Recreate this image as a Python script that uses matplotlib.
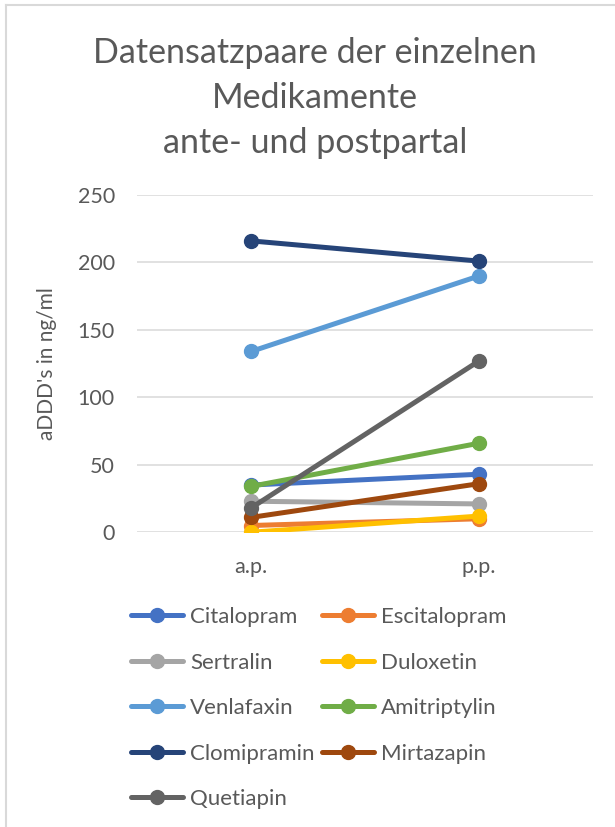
import matplotlib
matplotlib.use('Agg')
import matplotlib.pyplot as plt
from matplotlib.lines import Line2D

plt.rcParams['font.family'] = ['Lato', 'DejaVu Sans']

# Data (aDDD's in ng/ml)
categories = ['a.p.', 'p.p.']
drugs = ['Citalopram', 'Escitalopram', 'Sertralin', 'Duloxetin', 'Venlafaxin',
         'Amitriptylin', 'Clomipramin', 'Mirtazapin', 'Quetiapin']
citalopram = [35, 43]
escitalopram = [5, 10]
sertralin = [23, 21]
duloxetin = [0, 12]
venlafaxin = [134, 190]
amitriptylin = [34, 66]
clomipramin = [216, 201]
mirtazapin = [11, 36]
quetiapin = [18, 127]
values = [citalopram, escitalopram, sertralin, duloxetin, venlafaxin,
          amitriptylin, clomipramin, mirtazapin, quetiapin]
colors = ['#4472C4', '#ED7D31', '#A5A5A5', '#FFC000', '#5B9BD5',
          '#70AD47', '#264478', '#9E480E', '#636363']

text_col = '#595959'
grid_col = '#D9D9D9'

fig = plt.figure(figsize=(6.15, 8.27), dpi=100)
ax = fig.add_axes([0.2228, 0.3564, 0.7415, 0.4078])

x = list(range(len(categories)))
handles = []
for name, vals, c in zip(drugs, values, colors):
    h, = ax.plot(x, vals, color=c, lw=3.6, marker='o', markersize=10,
                 solid_capstyle='round', label=name)
    handles.append(h)

ax.set_xlim(-0.5, 1.5)
ax.set_ylim(0, 250)
ax.set_yticks([0, 50, 100, 150, 200, 250])
ax.set_xticks(x)
ax.set_xticklabels(categories)
ax.grid(axis='y', color=grid_col, lw=1.1)
ax.set_axisbelow(True)
for s in ax.spines.values():
    s.set_visible(False)
ax.tick_params(length=0, labelsize=15.5, labelcolor=text_col)
ax.tick_params(axis='y', pad=16)
ax.tick_params(axis='x', pad=18)
ax.set_ylabel("aDDD's in ng/ml", fontsize=15, color=text_col)
ax.yaxis.set_label_coords(-0.175, 0.5)

fig.text(0.512, 1 - 98 / 827, 'Datensatzpaare der einzelnen\nMedikamente\nante- und postpartal',
         ha='center', va='center', fontsize=24.5, color=text_col, linespacing=1.5)

# legend filled row-wise like Excel -> reorder for column-major layout
order = [0, 2, 4, 6, 8, 1, 3, 5, 7]
fig.legend([handles[i] for i in order], [drugs[i] for i in order],
           loc='upper left', bbox_to_anchor=(131 / 615, 1 - 607 / 827),
           ncol=2, frameon=False, fontsize=16, labelcolor=text_col,
           handlelength=2.35, handletextpad=0.3, columnspacing=0.35,
           labelspacing=1.15, borderpad=0, borderaxespad=0)

# chart area border (top and left visible)
fig.add_artist(Line2D([6 / 615, 6 / 615], [0, 1 - 5 / 827], color=grid_col, lw=1.5,
                      transform=fig.transFigure))
fig.add_artist(Line2D([6 / 615, 1], [1 - 5 / 827, 1 - 5 / 827], color=grid_col, lw=1.5,
                      transform=fig.transFigure))

fig.savefig('out.png', dpi=100)
